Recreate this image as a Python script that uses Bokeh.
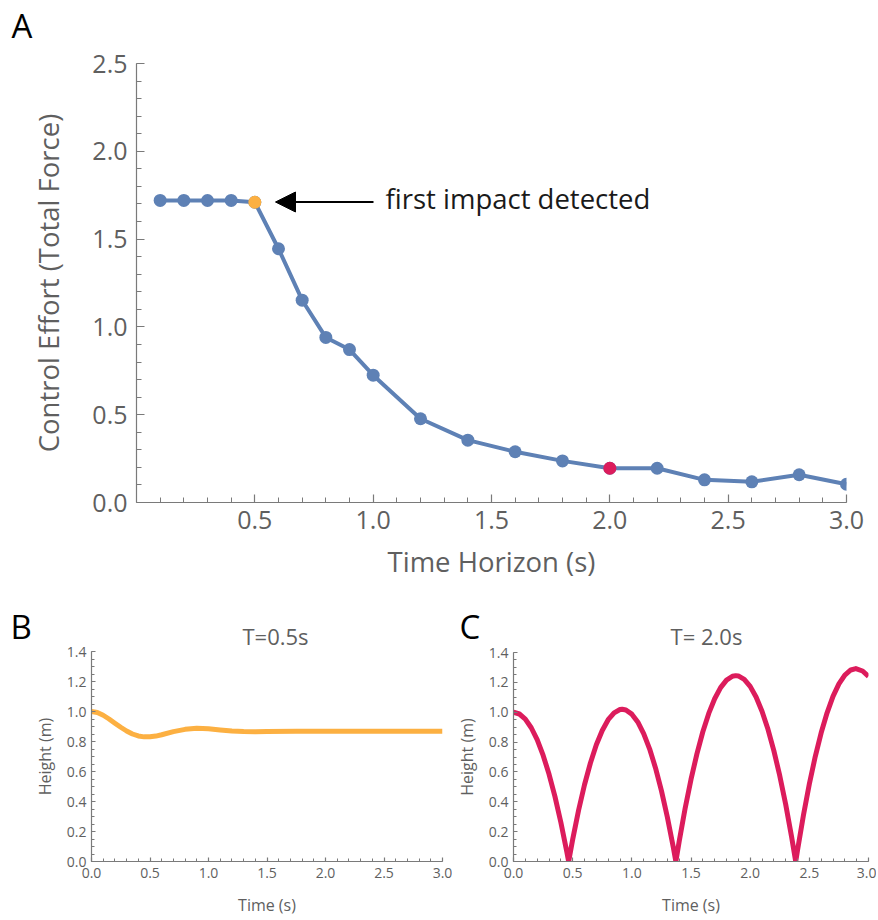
from bokeh.plotting import figure
from bokeh.models import Range1d, FixedTicker, Label, Arrow, NormalHead, PrintfTickFormatter
from bokeh.layouts import column, row
from bokeh.embed import file_html
from bokeh.resources import INLINE

# ---------------- data ----------------
# Panel A: control effort vs time horizon
horizon = [0.1, 0.2, 0.3, 0.4, 0.5, 0.6, 0.7, 0.8, 0.9, 1.0,
           1.2, 1.4, 1.6, 1.8, 2.0, 2.2, 2.4, 2.6, 2.8, 3.0]
effort = [1.72, 1.72, 1.72, 1.72, 1.71, 1.445, 1.152, 0.94, 0.871, 0.725,
          0.477, 0.355, 0.289, 0.237, 0.195, 0.195, 0.129, 0.118, 0.158, 0.104]
impact_horizon = 0.5      # first impact detected (orange)
selected_horizon = 2.0    # horizon shown in panel C (red)

# Panel B: height trajectory for T = 0.5 s
t_b = [0.0, 0.05, 0.1, 0.15, 0.2, 0.25, 0.3, 0.35, 0.4, 0.45, 0.5, 0.55, 0.6,
       0.7, 0.8, 0.9, 1.0, 1.1, 1.2, 1.3, 1.4, 1.5, 1.75, 2.0, 2.5, 3.0]
h_b = [1.000, 0.993, 0.975, 0.950, 0.922, 0.895, 0.870, 0.850, 0.837, 0.831, 0.831, 0.836, 0.845,
       0.866, 0.881, 0.888, 0.885, 0.877, 0.870, 0.866, 0.865, 0.866, 0.869, 0.869, 0.868, 0.868]

# Panel C: height trajectory for T = 2.0 s
t_c = [0.0, 0.05, 0.1, 0.15, 0.2, 0.25, 0.3, 0.35, 0.4, 0.45, 0.466,
       0.5, 0.55, 0.6, 0.65, 0.7, 0.75, 0.8, 0.85, 0.9, 0.919, 0.95, 1.0, 1.05, 1.1, 1.15, 1.2, 1.25, 1.3, 1.35, 1.372,
       1.4, 1.45, 1.5, 1.55, 1.6, 1.65, 1.7, 1.75, 1.8, 1.85, 1.878, 1.9, 1.95, 2.0, 2.05, 2.1, 2.15, 2.2, 2.25, 2.3, 2.35, 2.385,
       2.4, 2.45, 2.5, 2.55, 2.6, 2.65, 2.7, 2.75, 2.8, 2.85, 2.893, 2.95, 3.0]
h_c = [1.0, 0.988, 0.954, 0.896, 0.816, 0.712, 0.586, 0.436, 0.263, 0.067, 0.0,
       0.147, 0.343, 0.514, 0.660, 0.782, 0.878, 0.950, 0.996, 1.018, 1.02, 1.015, 0.987, 0.935, 0.857, 0.755, 0.627, 0.475, 0.298, 0.097, 0.0,
       0.134, 0.354, 0.550, 0.721, 0.869, 0.992, 1.090, 1.165, 1.215, 1.241, 1.245, 1.243, 1.220, 1.173, 1.102, 1.007, 0.887, 0.743, 0.575, 0.383, 0.166, 0.0,
       0.075, 0.309, 0.519, 0.703, 0.862, 0.996, 1.106, 1.190, 1.249, 1.283, 1.292, 1.276, 1.24]

# ticks
a_x_major = [0.5, 1.0, 1.5, 2.0, 2.5, 3.0]
a_x_minor = [round(0.1 * i, 1) for i in range(1, 31)]
a_y_major = [0.0, 0.5, 1.0, 1.5, 2.0, 2.5]
a_y_minor = [round(0.1 * i, 1) for i in range(0, 26)]
bc_x_major = [0.0, 0.5, 1.0, 1.5, 2.0, 2.5, 3.0]
bc_x_minor = [round(0.1 * i, 1) for i in range(0, 31)]
bc_y_major = [0.0, 0.2, 0.4, 0.6, 0.8, 1.0, 1.2, 1.4]
bc_y_minor = [round(0.05 * i, 2) for i in range(0, 29)]

# ---------------- style ----------------
FONT = "Open Sans"
BLUE = "#5E81B5"
ORANGE = "#FCB042"
RED = "#DC1C5C"
AXIS = "#7a7a7a"
TXT = "#5f5f5f"
W = 876
DESC = 0.31   # label baseline is drawn at the bottom of its text box: lift by the descent


def style_axes(p, xmaj, xmin, ymaj, ymin, tick_size, label_size, maj_len, min_len,
               x_std, y_std, x_lstd, y_lstd):
    p.grid.visible = False
    p.outline_line_color = None
    p.title.visible = False
    p.xaxis.ticker = FixedTicker(ticks=xmaj, minor_ticks=xmin)
    p.yaxis.ticker = FixedTicker(ticks=ymaj, minor_ticks=ymin)
    for ax in (p.xaxis, p.yaxis):
        ax.formatter = PrintfTickFormatter(format="%.1f")
        ax.axis_line_color = AXIS
        ax.axis_line_width = 1.2
        ax.major_tick_line_color = AXIS
        ax.minor_tick_line_color = AXIS
        ax.major_tick_line_width = 1.2
        ax.minor_tick_line_width = 1.0
        ax.major_tick_in = maj_len
        ax.major_tick_out = 0
        ax.minor_tick_in = min_len
        ax.minor_tick_out = 0
        ax.major_label_text_font = FONT
        ax.major_label_text_font_size = tick_size
        ax.major_label_text_color = TXT
        ax.axis_label_text_font = FONT
        ax.axis_label_text_font_size = label_size
        ax.axis_label_text_font_style = "normal"
        ax.axis_label_text_color = TXT
    p.xaxis.major_label_standoff = x_std
    p.yaxis.major_label_standoff = y_std
    p.xaxis.axis_label_standoff = x_lstd
    p.yaxis.axis_label_standoff = y_lstd


def header(height):
    h = figure(width=W, height=height, x_range=Range1d(0, W), y_range=Range1d(height, 0),
               x_axis_type=None, y_axis_type=None, min_border=0, frame_align=False,
               output_backend="svg", toolbar_location=None)
    h.outline_line_color = None
    h.title.visible = False
    return h


def txt(p, x, y, s, size, color, align="left"):
    p.add_layout(Label(x=x, y=y, text=s, text_font=FONT, text_font_size=f"{size}px",
                       text_color=color, text_baseline="alphabetic", text_align=align))


# ---------------- header A ----------------
hA = header(46)
txt(hA, 11, 35.5 - DESC * 33, "A", 33, "black")

# ---------------- panel A ----------------
pA = figure(width=W, height=544, x_range=Range1d(0, 3.0), y_range=Range1d(0, 2.5),
            output_backend="svg", toolbar_location=None, frame_align=False,
            min_border_left=136, min_border_right=30, min_border_top=17, min_border_bottom=88)
style_axes(pA, a_x_major, a_x_minor, a_y_major, a_y_minor, "25px", "27.5px", 8, 5, 8, 9, 11, 22)
pA.xaxis.axis_label = "Time Horizon (s)"
pA.yaxis.axis_label = "Control Effort (Total Force)"

pA.line(horizon, effort, line_color=BLUE, line_width=4)
pA.scatter(horizon, effort, size=13, fill_color=BLUE, line_color=None)
i_imp = horizon.index(impact_horizon)
i_sel = horizon.index(selected_horizon)
pA.scatter([horizon[i_imp]], [effort[i_imp]], size=13, fill_color=ORANGE, line_color=None)
pA.scatter([horizon[i_sel]], [effort[i_sel]], size=13, fill_color=RED, line_color=None)


def a_px(x, y):
    return (x - 136) / 236.67, (502 - y) / 175.6


ax0, ay0 = a_px(373, 201.5)
ax1, _ = a_px(275, 201.5)
pA.add_layout(Arrow(x_start=ax0, y_start=ay0, x_end=ax1, y_end=ay0, line_width=2, line_color="black",
                    end=NormalHead(size=20, fill_color="black", line_color="black", line_width=1)))
tx, ty = a_px(385, 207 - DESC * 27.5)
txt(pA, tx, ty, "first impact detected", 27.5, "#1a1a1a")

# ---------------- header B / C ----------------
hBC = header(56)
txt(hBC, 10, 46 - DESC * 33, "B", 33, "black")
txt(hBC, 275, 52.5 - DESC * 22, "T=0.5s", 22, TXT, align="center")
txt(hBC, 459, 46 - DESC * 33, "C", 33, "black")
txt(hBC, 706, 52.5 - DESC * 22, "T= 2.0s", 22, TXT, align="center")

# ---------------- panel B ----------------
pB = figure(width=452, height=272, x_range=Range1d(0, 3.0), y_range=Range1d(0, 1.4),
            output_backend="svg", toolbar_location=None, frame_align=False,
            min_border_left=91, min_border_right=10, min_border_top=5, min_border_bottom=51)
style_axes(pB, bc_x_major, bc_x_minor, bc_y_major, bc_y_minor, "14px", "16px", 4, 3, 6, 5, 13, 8)
pB.xaxis.axis_label = "Time (s)"
pB.yaxis.axis_label = "Height (m)"
pB.line(t_b, h_b, line_color=ORANGE, line_width=5, line_join="round")

# ---------------- panel C ----------------
pC = figure(width=W - 452, height=272, x_range=Range1d(0, 3.0), y_range=Range1d(0, 1.4),
            output_backend="svg", toolbar_location=None, frame_align=False,
            min_border_left=61, min_border_right=8, min_border_top=6, min_border_bottom=49)
style_axes(pC, bc_x_major, bc_x_minor, bc_y_major, bc_y_minor, "14px", "16px", 4, 3, 6, 5, 13, 8)
pC.xaxis.axis_label = "Time (s)"
pC.yaxis.axis_label = "Height (m)"
pC.line(t_c, h_c, line_color=RED, line_width=5, line_join="round")

layout = column(hA, pA, hBC, row(pB, pC))
open("out.html", "w").write(file_html(layout, INLINE))
